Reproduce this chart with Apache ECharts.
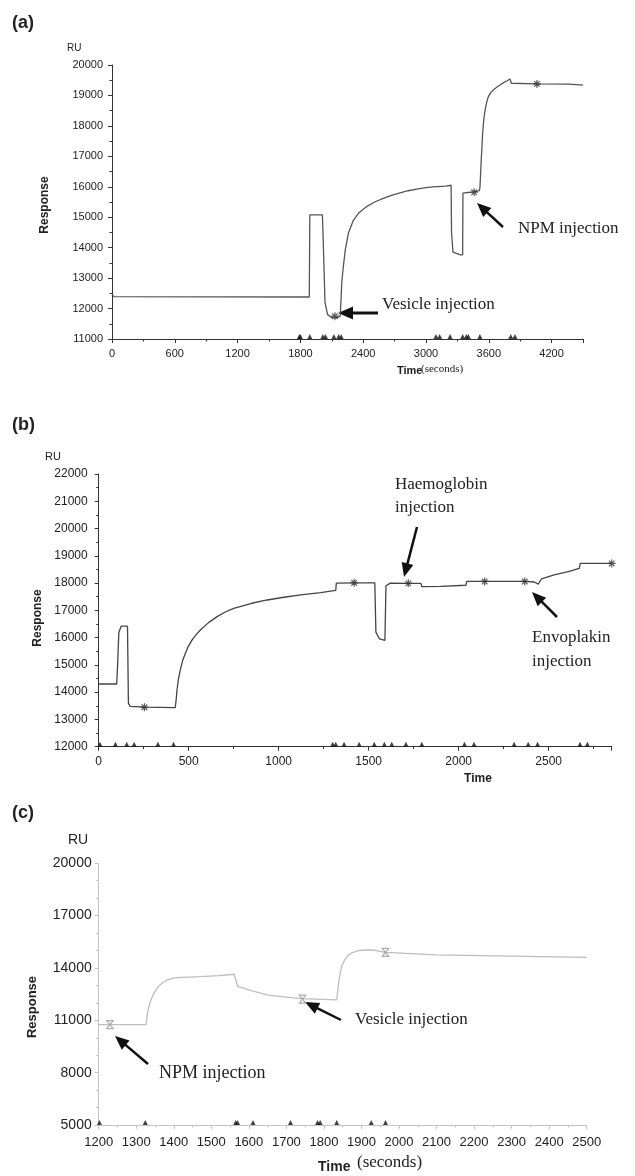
<!DOCTYPE html>
<html><head><meta charset="utf-8">
<script src="https://cdn.jsdelivr.net/npm/echarts@6/dist/echarts.min.js"></script>
<style>html,body{margin:0;padding:0;background:#fff}#c{width:635px;height:1176px}</style>
</head><body><div id="c"></div>
<script>
// ---------- Panel (a) ----------
const aTime = [0,20,1885,1890,2010,2020,2035,2060,2100,2150,2180,2188,2196,2210,2230,2258,2306,2360,2433,2510,2592,2670,2752,2830,2911,3000,3067,3190,3240,3244,3258,3330,3350,3353,3420,3460,3510,3516,3528,3541,3552,3564,3580,3596,3620,3644,3675,3707,3740,3771,3790,3803,3815,3822,4060,4370,4380,4500];
const aVal  = [12450,12390,12380,15080,15080,14000,12200,11800,11700,11700,11750,12300,12900,13375,13950,14470,14900,15150,15350,15500,15620,15720,15800,15870,15920,15970,16000,16020,16050,14500,13850,13760,13760,15790,15820,15830,15870,16000,16900,17760,18200,18520,18780,18960,19100,19180,19270,19345,19420,19475,19510,19540,19400,19380,19380,19370,19340,19340];
const aStars = [[2130,11750],[3460,15820],[4060,19380]];
const aTriangles = [1790,1800,1890,2015,2040,2120,2165,2190,3095,3130,3230,3350,3385,3405,3515,3810,3850];
const aXTicks = {min:0,max:4500,interval:600};
const aYTicks = {min:11000,max:20000,interval:1000};

// ---------- Panel (b) ----------
const bTime = [0,100,105,112,125,160,165,175,254,425,430,435,443,453,466,481,498,518,540,565,610,658,700,750,850,936,1030,1122,1233,1317,1320,1419,1534,1540,1560,1590,1596,1620,1720,1790,1795,1900,2040,2045,2144,2367,2420,2441,2460,2530,2609,2670,2675,2850];
const bVal  = [14300,14300,15000,16200,16420,16420,13600,13480,13450,13430,13700,14080,14480,14810,15150,15420,15680,15910,16100,16280,16550,16770,16930,17075,17260,17380,17480,17570,17650,17730,18000,18010,18010,16200,15950,15900,17900,18000,17990,17990,17870,17880,17920,18060,18060,18060,18040,17960,18150,18300,18420,18540,18720,18720];
const bStars = [[254,13450],[1419,18010],[1720,17990],[2144,18060],[2367,18060],[2850,18720]];
const bTriangles = [7,93,156,197,329,416,1300,1317,1363,1447,1531,1587,1628,1707,1795,2032,2085,2308,2386,2438,2674,2715];
const bXTicks = {min:0,max:2850,interval:500};
const bYTicks = {min:12000,max:22000,interval:1000};

// ---------- Panel (c) ----------
const cTime = [1200,1326,1329,1333,1338,1347,1355,1362,1372,1382,1395,1409,1440,1472,1520,1561,1566,1570,1600,1651,1700,1740,1834,1837,1840,1847,1855,1865,1878,1892,1910,1928,1964,2098,2300,2500];
const cVal  = [10750,10750,11300,11750,12100,12550,12820,13000,13180,13310,13400,13450,13480,13500,13560,13640,13650,12950,12750,12450,12330,12240,12170,12700,13300,14080,14450,14750,14900,15000,15030,15040,14890,14750,14680,14610];
const cStars = [[1230,10750],[1743,12220],[1964,14890]];
const cTriangles = [1202,1324,1565,1570,1611,1711,1783,1790,1834,1926,1964];
const cXTicks = {min:1200,max:2500,interval:100};
const cYTicks = {min:5000,max:20000,interval:3000};

const zip = (t,v) => t.map((x,i)=>[x,v[i]]);
const SANS = "'Liberation Sans', Arial, sans-serif";
const SERIF = "'Liberation Serif', 'Times New Roman', serif";
const STAR = 'path://M0,5L10,5M5,0L5,10M1.5,1.5L8.5,8.5M8.5,1.5L1.5,8.5';
const HOUR = 'path://M0,0L10,0M0,10L10,10M1,0L9,10M9,0L1,10';
const plain = v => String(v);

function xAxis(idx, t, fs, margin, col, split, showMax){
  return {type:'value', gridIndex:idx, min:t.min, max:t.max, interval:t.interval,
    axisLine:{onZero:false, lineStyle:{color:col,width:1}},
    axisTick:{length:4, lineStyle:{color:col}},
    minorTick:{show:true, splitNumber:split, length:2.5, lineStyle:{color:col}},
    splitLine:{show:false}, minorSplitLine:{show:false},
    axisLabel:{fontSize:fs, color:'#222', fontFamily:SANS, margin:margin, showMaxLabel:showMax, formatter:plain}};
}
function yAxis(idx, t, fs, margin, col, split){
  return {type:'value', gridIndex:idx, min:t.min, max:t.max, interval:t.interval,
    axisLine:{show:true, onZero:false, lineStyle:{color:col,width:1}},
    axisTick:{show:true, length:4, lineStyle:{color:col}},
    minorTick:{show:true, splitNumber:split, length:2.5, lineStyle:{color:col}},
    splitLine:{show:false}, minorSplitLine:{show:false},
    axisLabel:{fontSize:fs, color:'#222', fontFamily:SANS, margin:margin, formatter:plain}};
}
function lineS(idx, t, v, col){
  return {type:'line', xAxisIndex:idx, yAxisIndex:idx, data:zip(t,v), showSymbol:false,
    lineStyle:{color:col,width:1.3}, animation:false, silent:true};
}
function starS(idx, pts, sym, col){
  return {type:'scatter', xAxisIndex:idx, yAxisIndex:idx, data:pts, symbol:sym, symbolSize:8,
    itemStyle:{color:'rgba(0,0,0,0)', borderColor:col, borderWidth:1.2}, animation:false, silent:true, z:5};
}
function triS(idx, times, ymin){
  return {type:'scatter', xAxisIndex:idx, yAxisIndex:idx, data:times.map(t=>[t,ymin]), symbol:'triangle',
    symbolSize:[5,5], symbolOffset:[0,-2.5], itemStyle:{color:'#111'}, clip:false, animation:false, silent:true, z:6};
}

function arrow(x1,y1,x2,y2,lw,hl,hw){
  const dx=x2-x1, dy=y2-y1, L=Math.hypot(dx,dy), ux=dx/L, uy=dy/L;
  const bx=x2-ux*hl, by=y2-uy*hl, px=-uy, py=ux;
  return [
    {type:'line', shape:{x1:x1,y1:y1,x2:bx+ux*1,y2:by+uy*1}, style:{stroke:'#111', lineWidth:lw}},
    {type:'polygon', shape:{points:[[x2,y2],[bx+px*hw,by+py*hw],[bx-px*hw,by-py*hw]]}, style:{fill:'#111'}}
  ];
}
function txt(x,y,s,fs,font,weight,align,rot){
  const o={type:'text', x:x, y:y, style:{text:s, fontSize:fs, fontFamily:font, fontWeight:weight||'normal',
    fill:'#222', textAlign:align||'left', textVerticalAlign:'middle'}};
  if(rot){o.rotation=rot;}
  return o;
}

const graphics = [].concat(
  [txt(12,23,'(a)',18,SANS,'bold'), txt(12,425,'(b)',18,SANS,'bold'), txt(12,813,'(c)',18,SANS,'bold')],
  [txt(67,48,'RU',10,SANS), txt(45,457,'RU',11,SANS), txt(68,840,'RU',14,SANS)],
  [txt(45,205,'Response',12,SANS,'bold','center',Math.PI/2),
   txt(38,618,'Response',12,SANS,'bold','center',Math.PI/2),
   txt(32,1007,'Response',13,SANS,'bold','center',Math.PI/2)],
  [txt(397,371,'Time',11,SANS,'bold'), txt(421,369,'(seconds)',11,SERIF),
   txt(478,779,'Time',12,SANS,'bold','center'),
   txt(318,1167,'Time',14,SANS,'bold'), txt(357,1163,'(seconds)',17,SERIF)],
  [txt(382,305,'Vesicle injection',17,SERIF), txt(518,229,'NPM injection',17,SERIF),
   txt(395,485,'Haemoglobin',17,SERIF), txt(395,508,'injection',17,SERIF),
   txt(532,638,'Envoplakin',17,SERIF), txt(532,662,'injection',17,SERIF),
   txt(159,1073,'NPM injection',18,SERIF), txt(355,1020,'Vesicle injection',17,SERIF)],
  arrow(378,313,338,313,3,15,6.5),
  arrow(503,227,477,203,2.5,14,6),
  arrow(417,527,404,577,2.5,14,6),
  arrow(557,617,532,592,2.5,14,6),
  arrow(148,1064,115,1036,2.5,14,6),
  arrow(341,1020,305,1002,2.5,14,6)
);

const chart = echarts.init(document.getElementById('c'), null, {renderer:'canvas'});
chart.setOption({
  backgroundColor:'#fff',
  animation:false,
  grid:[
    {left:112, top:65, width:471, height:274},
    {left:98.7, top:474, width:513, height:272.7},
    {left:98.7, top:863.3, width:488, height:261.7}
  ],
  xAxis:[xAxis(0,aXTicks,11,9,'#333',2,false), xAxis(1,bXTicks,12,9,'#333',2,false), xAxis(2,cXTicks,13,11,'#c4c4c4',2,true)],
  yAxis:[yAxis(0,aYTicks,11,9,'#333',2), yAxis(1,bYTicks,12,11,'#333',2), yAxis(2,cYTicks,14,7,'#c4c4c4',3)],
  series:[
    lineS(0,aTime,aVal,'#555'), starS(0,aStars,STAR,'#333'), triS(0,aTriangles,aYTicks.min),
    lineS(1,bTime,bVal,'#444'), starS(1,bStars,STAR,'#333'), triS(1,bTriangles,bYTicks.min),
    lineS(2,cTime,cVal,'#bdbdbd'), starS(2,cStars,HOUR,'#999'), triS(2,cTriangles,cYTicks.min)
  ],
  graphic:graphics
});
</script></body></html>
